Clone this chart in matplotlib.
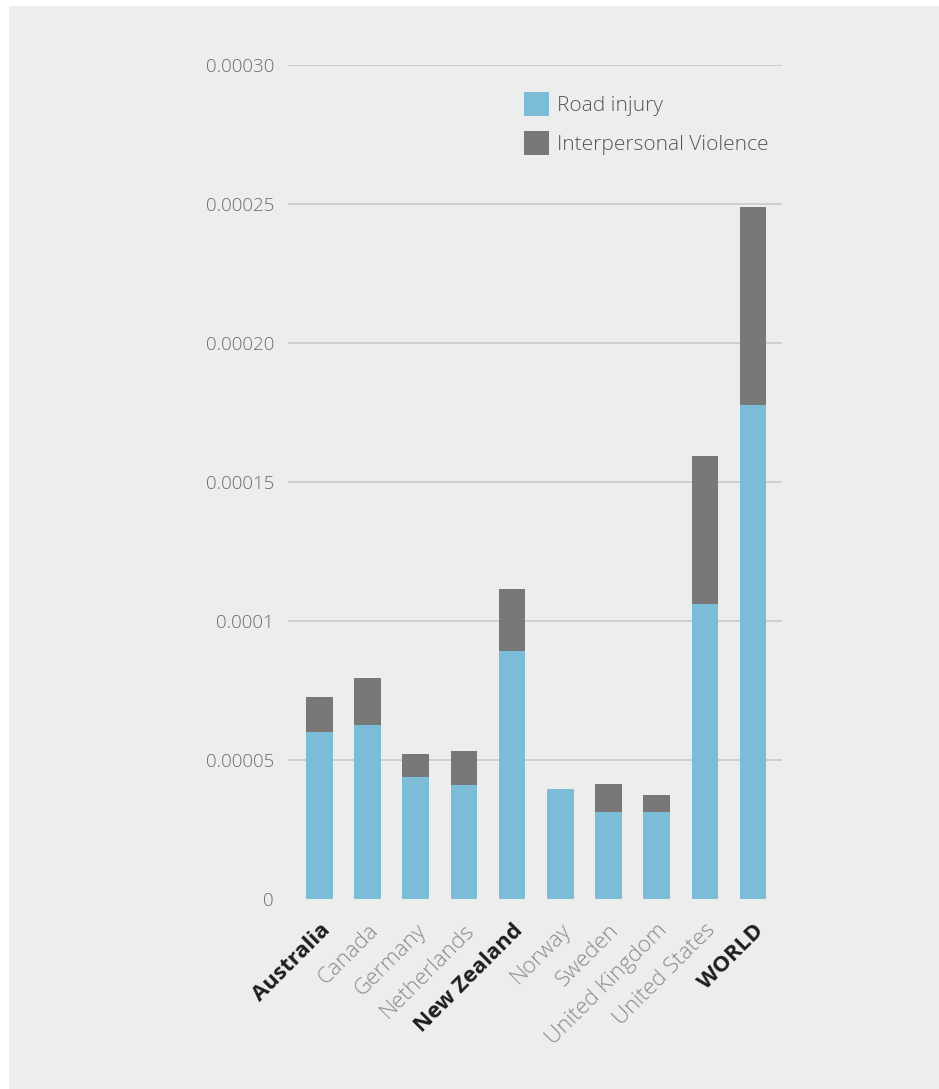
import matplotlib.pyplot as plt
from matplotlib.patches import Rectangle, Patch
import numpy as np

countries = ["Australia", "Canada", "Germany", "Netherlands", "New Zealand",
             "Norway", "Sweden", "United Kingdom", "United States", "WORLD"]
road_injury = [6.0e-5, 6.26e-5, 4.4e-5, 4.1e-5, 8.92e-5,
               3.95e-5, 3.13e-5, 3.13e-5, 1.06e-4, 1.777e-4]
totals = [7.27e-5, 7.94e-5, 5.22e-5, 5.32e-5, 1.114e-4,
          3.95e-5, 4.14e-5, 3.74e-5, 1.594e-4, 2.488e-4]
violence = [t - r for t, r in zip(totals, road_injury)]
bold_labels = ["Australia", "New Zealand", "WORLD"]

yticks = [0, 0.00005, 0.0001, 0.00015, 0.0002, 0.00025, 0.0003]
ytick_labels = ["0", "0.00005", "0.0001", "0.00015", "0.00020", "0.00025", "0.00030"]

BLUE = "#7bbdd6"
GRAY = "#787878"
BG = "#ededed"

plt.rcParams['font.family'] = ['Open Sans', 'DejaVu Sans']

fig = plt.figure(figsize=(9.39, 10.89), dpi=100)
fig.patch.set_facecolor("white")
# gray panel with a thin white margin at top and left
fig.add_artist(Rectangle((9 / 939, 0), 1, 1 - 6 / 1089, transform=fig.transFigure,
                         facecolor=BG, edgecolor="none", zorder=-5))

ax = fig.add_axes([288 / 939, 190 / 1089, (782 - 288) / 939, (899 - 65) / 1089])
ax.set_facecolor("none")
ax.set_zorder(2)

x = np.arange(len(countries))
ax.bar(x, road_injury, width=0.55, color=BLUE, zorder=3)
ax.bar(x, violence, width=0.55, bottom=road_injury, color=GRAY, zorder=3)

ax.set_xlim(-0.65, 9.6)
ax.set_ylim(0, 0.0003)
ax.set_yticks(yticks)
ax.set_yticklabels(ytick_labels, fontsize=13.5, color="#6c6c6c", fontweight="light")
for y in yticks[1:]:
    ax.axhline(y, color="#c6c6c6", linewidth=1.1, zorder=1)

ax.set_xticks(x)
ax.set_xticklabels(countries, rotation=45, ha="right", rotation_mode="anchor", fontsize=16)
for lbl in ax.get_xticklabels():
    if lbl.get_text() in bold_labels:
        lbl.set_fontweight("bold")
        lbl.set_color("#1e1e1e")
    else:
        lbl.set_fontweight("light")
        lbl.set_color("#8a8a8a")

ax.tick_params(axis="both", length=0)
ax.tick_params(axis="y", pad=10)
ax.tick_params(axis="x", pad=15)
for s in ax.spines.values():
    s.set_visible(False)

handles = [Patch(facecolor=BLUE, label="Road injury"),
           Patch(facecolor=GRAY, label="Interpersonal Violence")]
leg = ax.legend(handles=handles, loc="upper left", bbox_to_anchor=(0.44, 0.99),
                frameon=False, fontsize=15, handlelength=1.2, handleheight=1.4,
                handletextpad=0.4, labelspacing=0.7)
for t in leg.get_texts():
    t.set_color("#555555")
    t.set_fontweight("light")

fig.savefig("out.png", dpi=100, facecolor=fig.get_facecolor())
